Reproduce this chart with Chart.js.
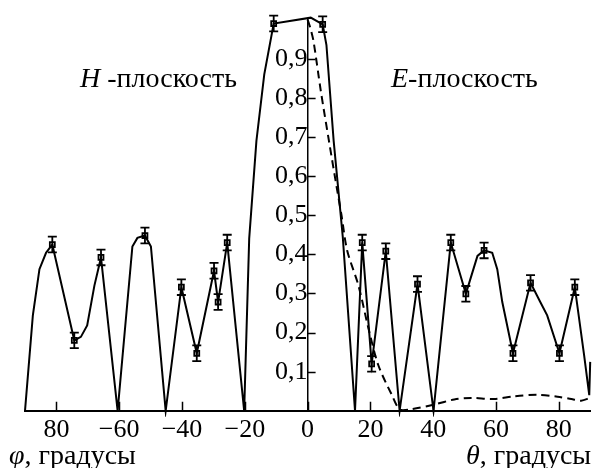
<!DOCTYPE html>
<html><head><meta charset="utf-8">
<script src="https://cdn.jsdelivr.net/npm/chart.js@4"></script>
<style>html,body{margin:0;padding:0;background:#fff}#wrap{width:596px;height:468px}</style>
</head><body><div id="wrap"><canvas id="c" width="596" height="468"></canvas></div>
<script>
// Solid curve: H-plane (phi, -90..0) joined with E-plane (theta, 0..90)
const solidX = [-90, -87.5, -85.4, -83.3, -81.3, -74.3, -72.2, -70.2, -67.9, -65.8, -60.5, -55.8, -54.2, -51.8, -49.9, -45.2, -40.2, -35.3, -29.8, -28.5, -25.6, -20.2, -18.6, -16.3, -13.8, -10.8, 1.0, 4.8, 6.0, 8.3, 11.2, 15.1, 17.4, 20.4, 24.9, 29.3, 35.0, 40.1, 45.6, 50.4, 52.0, 54.1, 56.2, 58.8, 60.4, 62.0, 65.4, 71.0, 74.1, 76.3, 80.2, 85.1, 88.1, 89.7, 90];
const solidY = [0, 0.244, 0.362, 0.404, 0.425, 0.18, 0.189, 0.218, 0.32, 0.392, 0, 0.42, 0.442, 0.448, 0.42, 0, 0.316, 0.147, 0.358, 0.278, 0.43, 0, 0.44, 0.69, 0.86, 0.99, 1.005, 0.988, 0.935, 0.69, 0.445, 0, 0.43, 0.12, 0.408, 0, 0.324, 0, 0.43, 0.299, 0.341, 0.396, 0.41, 0.404, 0.362, 0.278, 0.147, 0.327, 0.278, 0.244, 0.147, 0.316, 0.14, 0.04, 0.125];
// Dashed curve (E-plane, theory)
const dashX = [0, 1.0, 1.9, 4.2, 6.8, 9.4, 10.8, 12.6, 16.2, 19.4, 22.5, 26.8, 29.4, 32.9, 40.3, 46.7, 52.0, 59.4, 65.7, 73.1, 79.6, 84.0, 87.1, 90];
const dashY = [1.0, 0.975, 0.944, 0.818, 0.69, 0.565, 0.5, 0.41, 0.32, 0.21, 0.117, 0.041, 0.003, 0.004, 0.016, 0.029, 0.033, 0.03, 0.037, 0.041, 0.036, 0.03, 0.026, 0.033];
// Measured points with error bars
const markX = [-81.3, -74.3, -65.8, -51.8, -40.2, -35.3, -29.8, -28.5, -25.6, -10.8, 4.8, 17.4, 20.4, 24.9, 35.0, 45.6, 50.4, 56.2, 65.4, 71.0, 80.2, 85.1];
const markY = [0.425, 0.18, 0.392, 0.448, 0.316, 0.147, 0.358, 0.278, 0.43, 0.99, 0.988, 0.43, 0.12, 0.408, 0.324, 0.43, 0.299, 0.41, 0.147, 0.327, 0.147, 0.316];
const errBar = 0.02;
// Ticks
const xTickValues = [-80, -60, -40, -20, 0, 20, 40, 60, 80];
const xTickLabels = ['80', '\u221260', '\u221240', '\u221220', '0', '20', '40', '60', '80'];
const yTickValues = [0.1, 0.2, 0.3, 0.4, 0.5, 0.6, 0.7, 0.8, 0.9];
const yTickLabels = ['0,1', '0,2', '0,3', '0,4', '0,5', '0,6', '0,7', '0,8', '0,9'];

const FONT = '"Liberation Serif", "Times New Roman", serif';

const decor = {
  id: 'decor',
  afterDatasetsDraw(chart) {
    const {ctx, scales: {x, y}} = chart;
    ctx.save();
    ctx.strokeStyle = '#000';
    ctx.lineWidth = 1.8;
    ctx.beginPath();
    markX.forEach((mx, i) => {
      const px = x.getPixelForValue(mx);
      const top = y.getPixelForValue(markY[i] + errBar);
      const bot = y.getPixelForValue(markY[i] - errBar);
      ctx.moveTo(px, top); ctx.lineTo(px, bot);
      ctx.moveTo(px - 4.5, top); ctx.lineTo(px + 4.5, top);
      ctx.moveTo(px - 4.5, bot); ctx.lineTo(px + 4.5, bot);
    });
    ctx.stroke();
    // inward tick marks
    const x0 = x.getPixelForValue(0), y0 = y.getPixelForValue(0);
    ctx.lineWidth = 1.5;
    ctx.beginPath();
    yTickValues.forEach(v => { const py = Math.round(y.getPixelForValue(v)) + 0.5; ctx.moveTo(x0, py); ctx.lineTo(x0 + 8, py); });
    xTickValues.forEach(v => { const px = Math.round(x.getPixelForValue(v)) + 0.5; ctx.moveTo(px, y0); ctx.lineTo(px, y0 - 9); });
    ctx.stroke();
    // texts
    ctx.fillStyle = '#000';
    ctx.textBaseline = 'alphabetic';
    ctx.textAlign = 'left';
    const pair = (a, b, px, py, size) => {
      ctx.font = 'italic ' + size + 'px ' + FONT;
      ctx.fillText(a, px, py);
      const w = ctx.measureText(a).width;
      ctx.font = size + 'px ' + FONT;
      ctx.fillText(b, px + w, py);
    };
    pair('H', ' -плоскость', 80, 87, 28);
    pair('E', '-плоскость', 391, 87, 28);
    pair('φ', ', градусы', 9, 464, 28);
    pair('θ', ', градусы', 466, 464, 28);
    ctx.restore();
  }
};

new Chart(document.getElementById('c'), {
  type: 'scatter',
  data: {
    datasets: [
      { label: 'solid', data: solidX.map((v, i) => ({x: v, y: solidY[i]})), showLine: true, borderColor: '#000', borderWidth: 2, pointRadius: 0, tension: 0, clip: 6 },
      { label: 'dashed', data: dashX.map((v, i) => ({x: v, y: dashY[i]})), showLine: true, borderColor: '#000', borderWidth: 2, borderDash: [8, 5], pointRadius: 0, tension: 0.3, clip: 6 },
      { label: 'marks', data: markX.map((v, i) => ({x: v, y: markY[i]})), showLine: false, pointStyle: 'rect', pointRadius: 3.5, borderColor: '#000', borderWidth: 1.8, backgroundColor: 'rgba(0,0,0,0)', clip: 10 }
    ]
  },
  options: {
    responsive: false,
    animation: false,
    devicePixelRatio: 1,
    layout: { padding: { left: 25, right: 3, top: 17, bottom: 18 } },
    plugins: { legend: { display: false }, tooltip: { enabled: false } },
    scales: {
      x: {
        type: 'linear', min: -90, max: 90, position: 'bottom',
        afterBuildTicks: s => { s.ticks = xTickValues.map(v => ({value: v})); },
        ticks: { callback: v => xTickLabels[xTickValues.indexOf(v)], color: '#000', font: { family: FONT, size: 26 }, padding: 4, maxRotation: 0, autoSkip: false },
        grid: { display: true, drawOnChartArea: false, drawTicks: false },
        border: { display: true, color: '#000', width: 2 }
      },
      y: {
        type: 'linear', min: 0, max: 1, position: { x: 0 },
        afterBuildTicks: s => { s.ticks = yTickValues.map(v => ({value: v})); },
        ticks: { callback: v => yTickLabels[yTickValues.indexOf(v)], color: '#000', font: { family: FONT, size: 26 }, padding: 4, autoSkip: false },
        grid: { display: true, drawOnChartArea: false, drawTicks: false },
        border: { display: true, color: '#000', width: 1.5 }
      }
    }
  },
  plugins: [decor]
});
</script>
</body></html>
